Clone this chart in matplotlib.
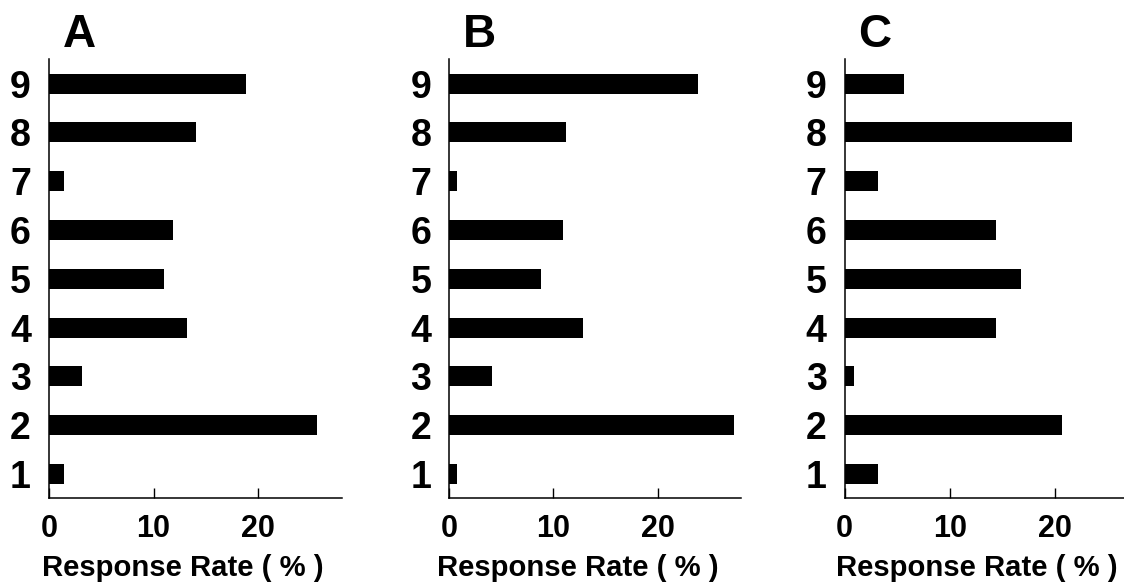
import matplotlib
matplotlib.use("Agg")
import matplotlib.pyplot as plt
from matplotlib.transforms import offset_copy

plt.rcParams['font.family'] = ['Liberation Sans', 'DejaVu Sans']
plt.rcParams['font.weight'] = 'bold'

categories = [1, 2, 3, 4, 5, 6, 7, 8, 9]
panel_labels = ["A", "B", "C"]
rate_A = [1.4, 25.6, 3.2, 13.2, 11.0, 11.9, 1.4, 14.1, 18.8]
rate_B = [0.7, 27.3, 4.1, 12.8, 8.8, 10.9, 0.7, 11.2, 23.9]
rate_C = [3.2, 20.7, 0.9, 14.4, 16.8, 14.4, 3.2, 21.6, 5.6]
xticks = [0, 10, 20]
xlabel = "Response Rate ( % )"
xmax = [28, 28, 26.6]

W, H = 1124, 588
fig = plt.figure(figsize=(W / 100, H / 100), dpi=100)

lefts = [49, 449.3, 844.7]
rights = [341.7, 741, 1124]
label_x = [0.456, 0.441, 0.473]
top_px, bot_px = 59.3, 498.3

for i, (vals, lab) in enumerate(zip([rate_A, rate_B, rate_C], panel_labels)):
    l = lefts[i] / W
    w = (rights[i] - lefts[i]) / W
    b = 1 - bot_px / H
    h = (bot_px - top_px) / H
    ax = fig.add_axes([l, b, w, h])
    ax.barh(categories, vals, height=0.41, color='black')
    ax.set_ylim(0.5, 9.5)
    ax.set_xlim(0, xmax[i])
    ax.set_yticks(categories)
    ax.set_yticklabels([str(c) for c in categories], fontsize=27, fontweight='bold')
    ax.set_xticks(xticks)
    ax.set_xticklabels([str(t) for t in xticks], fontsize=22, fontweight='bold')
    ax.tick_params(axis='y', length=0, pad=13)
    ax.tick_params(axis='x', direction='in', length=7, width=1, pad=11)
    for s in ['top', 'right']:
        ax.spines[s].set_visible(False)
    for s in ['left', 'bottom']:
        ax.spines[s].set_linewidth(1.1)
    ax.set_xlabel(xlabel, fontsize=21.1, fontweight='bold', va='baseline')
    ax.xaxis.set_label_coords(label_x[i], -(576 - bot_px) / (bot_px - top_px))
    tr = offset_copy(ax.transAxes, fig=fig, x=30 * 0.72, y=12 * 0.72, units='points')
    ax.text(0, 1, lab, transform=tr, fontsize=33, fontweight='bold',
            ha='center', va='baseline')

fig.savefig("out.png", dpi=100)
